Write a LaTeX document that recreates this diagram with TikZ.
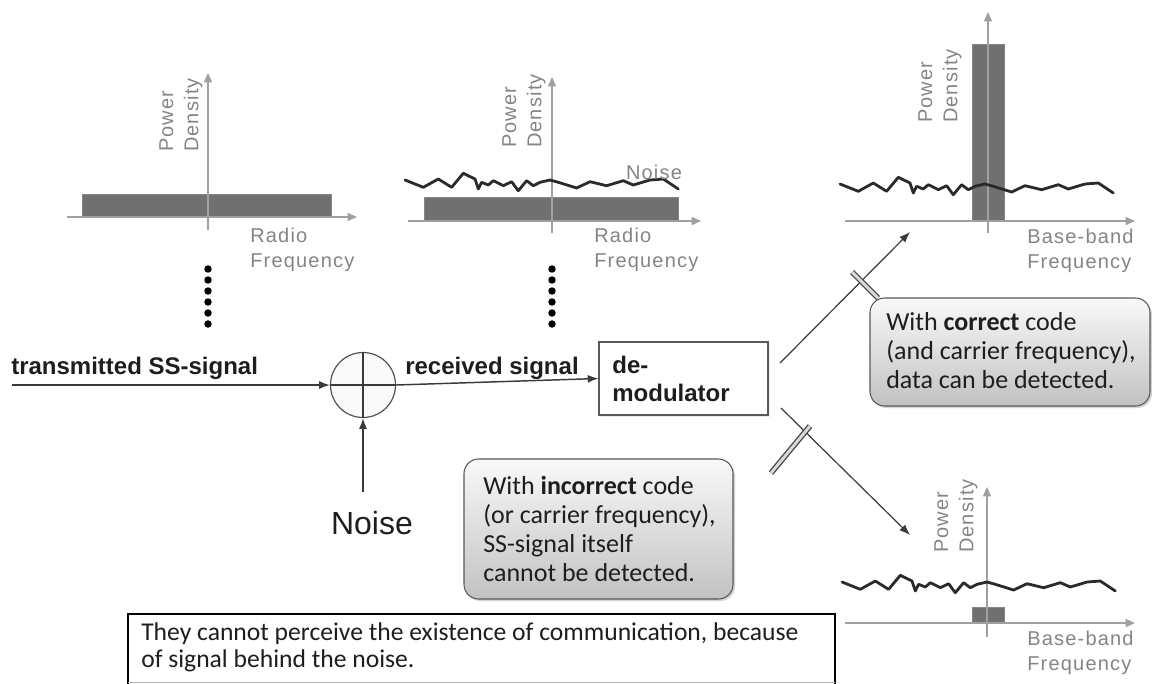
\documentclass[tikz,border=0pt]{standalone}
\usepackage{fontspec}
\setmainfont{Liberation Sans}
\newfontfamily\axisfont[LetterSpace=6]{Liberation Sans}
\newfontfamily\calfont{Carlito}
\usetikzlibrary{arrows.meta,shadows}
\definecolor{axisgray}{HTML}{A0A0A0}
\definecolor{labelgray}{HTML}{858585}
\definecolor{bargray}{HTML}{707070}
\definecolor{noiseblack}{HTML}{2A2A2A}
\definecolor{flowgray}{HTML}{3A3A3A}
\definecolor{textblack}{HTML}{1E1E1E}
\tikzset{
  axisline/.style={draw=axisgray, line width=1.1pt, -{Triangle[length=7pt,width=6pt]}},
  barfill/.style={fill=bargray, draw=bargray!85!white, line width=0.6pt},
  noiseline/.style={draw=noiseblack, line width=2.1pt, line join=round, line cap=round},
  axislabel/.style={font=\axisfont\fontsize{15}{19}\selectfont, text=labelgray, align=left, inner sep=0pt},
  pdlabel/.style={axislabel, rotate=90},
  flow/.style={draw=flowgray, line width=1.1pt, -{Latex[length=8pt,width=6pt]}},
  branch/.style={draw=flowgray, line width=0.9pt, -{Latex[length=8pt,width=6pt]}},
  mainlabel/.style={font=\bfseries\fontsize{18}{21}\selectfont, text=textblack, inner sep=0pt, anchor=west},
  callout/.style={draw=gray!70!black, line width=0.8pt, rounded corners=11pt,
     top color=gray!5, bottom color=gray!48,
     drop shadow={shadow xshift=1.5pt, shadow yshift=-1.5pt, opacity=0.35}},
  callouttext/.style={font=\calfont\fontsize{19.5}{21.75}\selectfont, align=left, inner sep=0pt, anchor=west, text=textblack},
  switchmark/.style={draw=gray!55!black, double=gray!30, double distance=2.2pt, line width=1pt},
  dotmark/.style={fill=black},
}
\newcommand\noisecurve[1]{%
  \begin{scope}[shift={(#1)}]
  \draw[noiseline] (0,0) -- (18.3,7.3) -- (33.3,-1) -- (46.6,7.3) -- (58.3,-6.7) -- (70,-1) -- (73.3,9) -- (76.6,2.3) -- (83.3,5) -- (88.3,0.7) -- (98.3,5.7) -- (106.6,1.7) -- (113.3,10.7) -- (121.6,0.7) -- (128.3,5.7) -- (135,2.3) -- (145,0) -- (153.3,2.3) -- (171.6,8) -- (185,1.7) -- (201.6,5.7) -- (218.3,0.7) -- (228.3,5) -- (245,0) -- (258.3,-1) -- (273.3,9);
  \end{scope}}
\begin{document}
\begin{tikzpicture}[x=0.75pt,y=-0.75pt]
\useasboundingbox[fill=white] (0,0) rectangle (1152,683);

% ---------- chart 1: transmitted spectrum ----------
\fill[barfill] (82,194) rectangle (331,217);
\draw[axisline] (67,217) -- (357,217);
\draw[axisline] (208,230) -- (208,73);
\node[pdlabel] (pd1) at (181,115) {Power\\Density};
\node[axislabel, anchor=west] (rf1) at (250,249.5) {Radio\\Frequency};

% ---------- chart 2: received spectrum ----------
\fill[barfill] (424,197) rectangle (678,221);
\draw[axisline] (408,221) -- (701,221);
\draw[axisline] (552,233) -- (552,77);
\noisecurve{405,180}
\node[pdlabel] (pd2) at (524,111) {Power\\Density};
\node[axislabel] (nl2) at (654,172) {Noise};
\node[axislabel, anchor=west] (rf2) at (594,250) {Radio\\Frequency};

% ---------- chart 3: correct code ----------
\fill[barfill] (972,44) rectangle (1004,221);
\draw[axisline] (845,221) -- (1135,221);
\draw[axisline] (988,233) -- (988,12);
\noisecurve{840,184}
\node[pdlabel] (pd3) at (940,86) {Power\\Density};
\node[axislabel, anchor=west] (bb3) at (1027,250.5) {Base-band\\Frequency};

% ---------- chart 4: incorrect code ----------
\fill[barfill] (972,607) rectangle (1004,623);
\draw[axisline] (845,623) -- (1135,623);
\draw[axisline] (987,637) -- (987,487);
\noisecurve{842,582}
\node[pdlabel] (pd4) at (956,516) {Power\\Density};
\node[axislabel, anchor=west] (bb4) at (1027,652.5) {Base-band\\Frequency};

% ---------- dots ----------
\foreach \yy in {269,280,291,302,313,324} {
  \fill[dotmark] (208,\yy) circle[radius=2.8pt];
  \fill[dotmark] (552,\yy) circle[radius=2.8pt];
}

% ---------- signal flow ----------
\coordinate (src) at (12,385);
\coordinate (noisesrc) at (363,492);
\node[circle, draw=gray!65!black, fill=gray!4, line width=0.9pt, minimum size=48.75pt, inner sep=0pt] (sum) at (363,385) {};
\draw[flowgray, line width=0.8pt] (sum.north) -- (sum.south) (sum.west) -- (sum.east);
\node[draw=gray!70!black, fill=white, line width=0.9pt, minimum width=126.75pt, minimum height=54.75pt,
      text width=106.75pt, inner xsep=10pt, align=left, anchor=center,
      font=\bfseries\fontsize{18}{21}\selectfont, text=textblack,
      drop shadow={shadow xshift=1.5pt, shadow yshift=-1.5pt, opacity=0.15}] (demod) at (683.5,378.5) {de-\\modulator};

\draw[flow] (src) -- (sum.west);
\draw[flow] (sum.east) -- (demod.west);
\draw[flow] (noisesrc) -- (sum.south);

\node[mainlabel] (tx) at (11,368) {transmitted SS-signal};
\node[mainlabel] (rx) at (405,368) {received signal};
\node[font=\fontsize{24}{28}\selectfont, text=textblack, inner sep=0pt] (noiselbl) at (372,523) {Noise};

% ---------- branches ----------
\coordinate (upstart) at (780,363);
\coordinate (uptip) at (910,232);
\coordinate (dnstart) at (781,408);
\coordinate (dntip) at (910,535);
\draw[branch] (upstart) -- (uptip);
\draw[branch] (dnstart) -- (dntip);
\draw[switchmark] (852,272) -- (878,298);
\draw[switchmark] (771,473) -- (810,426);

% ---------- callouts ----------
\path[callout] (870,298) rectangle (1150,406);
\node[callouttext] (ok) at (886,351) {With \textbf{correct} code\\(and carrier frequency),\\data can be detected.};
\path[callout] (464,459) rectangle (733,599);
\node[callouttext] (bad) at (483,529) {With \textbf{incorrect} code\\(or carrier frequency),\\SS-signal itself\\cannot be detected.};

% ---------- bottom message ----------
\draw[black, line width=2.2pt, line join=miter] (128,690) -- (128,614) -- (835,614) -- (835,690);
\draw[gray!60, line width=0.6pt] (128,682) -- (835,682);
\node[font=\calfont\fontsize{19.2}{20.25}\selectfont, align=left, inner sep=0pt, anchor=west, text=textblack] (msg) at (141,647)
  {They cannot perceive the existence of communication, because\\of signal behind the noise.};
\end{tikzpicture}
\end{document}
